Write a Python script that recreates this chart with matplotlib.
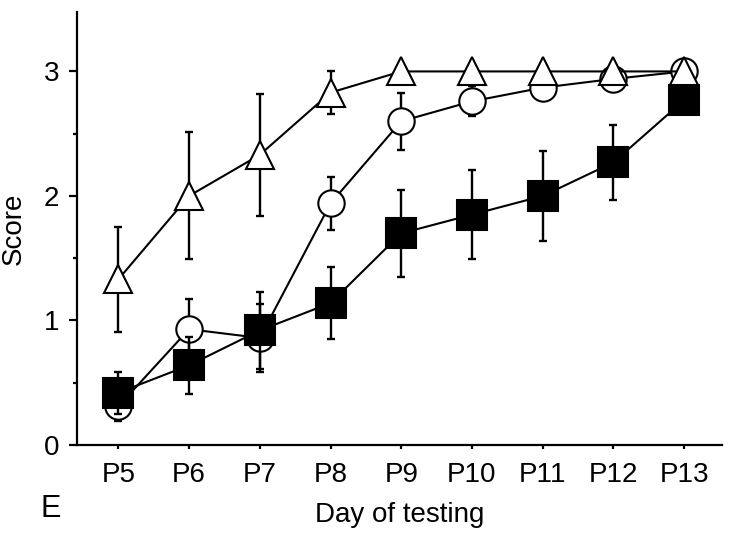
import matplotlib
matplotlib.use("Agg")
import matplotlib.pyplot as plt
from matplotlib.ticker import MultipleLocator
import numpy as np

plt.rcParams['font.family'] = ['Liberation Sans', 'DejaVu Sans']

days = ["P5", "P6", "P7", "P8", "P9", "P10", "P11", "P12", "P13"]

tri_mean = [1.33, 2.00, 2.33, 2.83, 3.00, 3.00, 3.00, 3.00, 3.00]
tri_err = [0.42, 0.51, 0.49, 0.17, 0.0, 0.0, 0.0, 0.0, 0.0]

circ_mean = [0.31, 0.93, 0.86, 1.94, 2.60, 2.76, 2.87, 2.94, 3.00]
circ_err = [0.12, 0.24, 0.27, 0.21, 0.23, 0.12, 0.0, 0.0, 0.0]

sq_mean = [0.42, 0.64, 0.92, 1.14, 1.70, 1.85, 2.00, 2.27, 2.77]
sq_err = [0.17, 0.23, 0.31, 0.29, 0.35, 0.36, 0.36, 0.30, 0.0]

fig = plt.figure(figsize=(7.29, 5.37), dpi=100)
ax = fig.add_axes([0.106, 0.1713, 0.884, 0.807])

x = np.arange(len(days))
lw = 1.5

def series(mean, err, marker, face, ms, z):
    ax.errorbar(x, mean, yerr=err, fmt='none', ecolor='black', elinewidth=1.7,
                capsize=2.9, capthick=1.7, zorder=z)
    ax.plot(x, mean, '-', color='black', lw=lw, marker=marker, markersize=ms,
            markerfacecolor=face, markeredgecolor='black', markeredgewidth=1.5,
            zorder=z + 0.5)

series(circ_mean, circ_err, 'o', 'white', 19, 2)
series(sq_mean, sq_err, 's', 'black', 21, 3)
series(tri_mean, tri_err, '^', 'white', 20, 4)

ax.set_xlim(-0.58, 8.53)
ax.set_ylim(0, 3.48)
ax.set_xticks(x)
ax.set_xticklabels(days)
ax.set_yticks([0, 1, 2, 3])
ax.set_yticklabels(["0", "1", "2", "3"])
ax.yaxis.set_minor_locator(MultipleLocator(0.5))

for s in ['top', 'right']:
    ax.spines[s].set_visible(False)
for s in ['left', 'bottom']:
    ax.spines[s].set_linewidth(1.6)

fs = 20
ax.tick_params(axis='x', which='major', direction='out', length=3, width=1.6,
               labelsize=fs, pad=9)
ax.tick_params(axis='y', which='major', direction='out', length=6, width=1.6,
               labelsize=fs, pad=7)
ax.tick_params(axis='y', which='minor', direction='out', length=3, width=1.6)
ax.set_ylabel("Score", fontsize=fs, labelpad=12)
ax.set_xlabel("Day of testing", fontsize=fs, labelpad=10)

fig.text(0.070, 0.053, "E", fontsize=22, ha='center', va='center')

fig.savefig("out.png", dpi=100)
